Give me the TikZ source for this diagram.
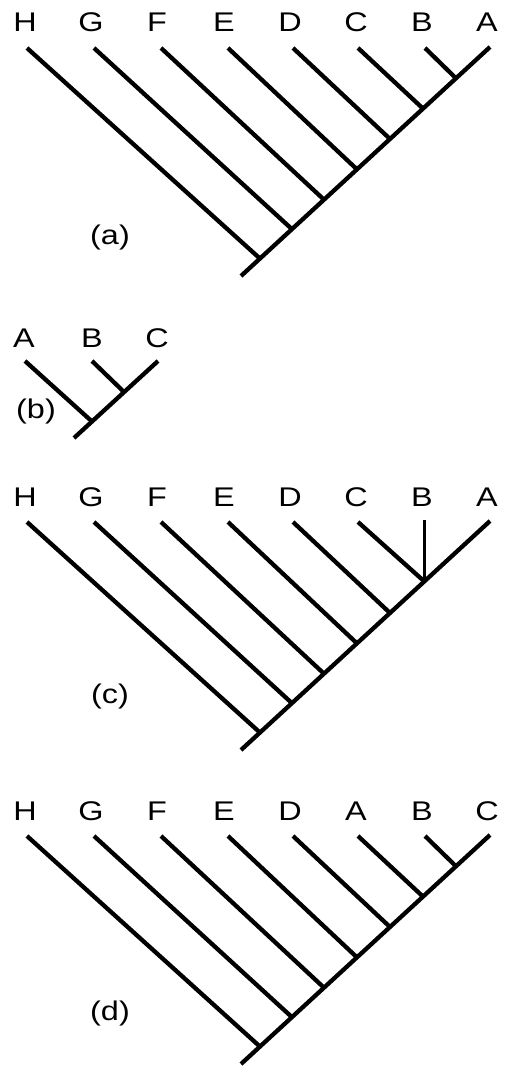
\documentclass[tikz,border=0pt]{standalone}
\usepackage{fontspec}
\setmainfont{Liberation Sans}[FakeStretch=1.2]
\begin{document}
\begin{tikzpicture}[x=1pt,y=-1pt,
  branch/.style={line width=4.3pt},
  thin branch/.style={line width=3pt},
  taxon/.style={anchor=base,inner sep=0pt,font=\fontsize{27}{27}\selectfont},
  panel/.style={anchor=center,inner sep=0pt,font=\fontsize{27}{27}\selectfont}]
\useasboundingbox (0,0) rectangle (506,1067);
% ---------- (a) ----------
\foreach \n/\x in {H/25,G/91,F/157,E/224,D/290,C/356,B/422,A/487}
  \node[taxon] (a\n) at (\x,32) {\n};
\coordinate (atH) at (27,48);  \coordinate (atG) at (94,48);
\coordinate (atF) at (161,48); \coordinate (atE) at (228,48);
\coordinate (atD) at (293,48); \coordinate (atC) at (358,48);
\coordinate (atB) at (425,48); \coordinate (atA) at (490,47);
\coordinate (ajB) at (456,78.3);  \coordinate (ajC) at (423,108.6);
\coordinate (ajD) at (390,139);   \coordinate (ajE) at (357,169.4);
\coordinate (ajF) at (324,199.7); \coordinate (ajG) at (292,229.2);
\coordinate (ajH) at (260,258.6); \coordinate (aroot) at (241,276);
\draw[branch] (atA) -- (aroot);
\foreach \n in {B,C,D,E,F,G,H} \draw[branch] (at\n) -- (aj\n);
\node[panel] (alab) at (110,238) {(a)};
% ---------- (b) ----------
\node[taxon] (bA) at (24,347) {A};
\node[taxon] (bB) at (92,347) {B};
\node[taxon] (bC) at (157,347) {C};
\coordinate (btA) at (25,361); \coordinate (btB) at (92,361); \coordinate (btC) at (158,361);
\coordinate (bjB) at (124,392); \coordinate (bjA) at (92,421.5); \coordinate (broot) at (74,438);
\draw[branch] (btC) -- (broot);
\draw[branch] (btB) -- (bjB);
\draw[branch] (btA) -- (bjA);
\node[panel] (blab) at (36,412) {(b)};
% ---------- (c) ----------
\foreach \n/\x in {H/25,G/91,F/157,E/224,D/290,C/356,B/422,A/487}
  \node[taxon] (c\n) at (\x,506) {\n};
\coordinate (ctH) at (27,522);  \coordinate (ctG) at (94,522);
\coordinate (ctF) at (161,522); \coordinate (ctE) at (228,522);
\coordinate (ctD) at (293,522); \coordinate (ctC) at (358,522);
\coordinate (ctB) at (424.5,520); \coordinate (ctA) at (490,521);
\coordinate (cjC) at (424.5,581.6);
\coordinate (cjD) at (390,613);   \coordinate (cjE) at (357,643.4);
\coordinate (cjF) at (324,673.7); \coordinate (cjG) at (292,703.2);
\coordinate (cjH) at (260,732.6); \coordinate (croot) at (241,750);
\draw[branch] (ctA) -- (croot);
\draw[thin branch] (ctB) -- (cjC);
\foreach \n in {C,D,E,F,G,H} \draw[branch] (ct\n) -- (cj\n);
\node[panel] (clab) at (110,697) {(c)};
% ---------- (d) ----------
\foreach \n/\m/\x in {H/H/25,G/G/91,F/F/157,E/E/224,D/D/290,A/C/356,B/B/422,C/A/487}
  \node[taxon] (d\m) at (\x,820) {\n};
\coordinate (dtH) at (27,836);  \coordinate (dtG) at (94,836);
\coordinate (dtF) at (161,836); \coordinate (dtE) at (228,836);
\coordinate (dtD) at (293,836); \coordinate (dtC) at (358,836);
\coordinate (dtB) at (425,836); \coordinate (dtA) at (490,835);
\coordinate (djB) at (456,866.3);  \coordinate (djC) at (423,896.6);
\coordinate (djD) at (390,927);    \coordinate (djE) at (357,957.4);
\coordinate (djF) at (324,987.7);  \coordinate (djG) at (292,1017.2);
\coordinate (djH) at (260,1046.6); \coordinate (droot) at (241,1064);
\draw[branch] (dtA) -- (droot);
\foreach \n in {B,C,D,E,F,G,H} \draw[branch] (dt\n) -- (dj\n);
\node[panel] (dlab) at (110,1014) {(d)};
\end{tikzpicture}
\end{document}
